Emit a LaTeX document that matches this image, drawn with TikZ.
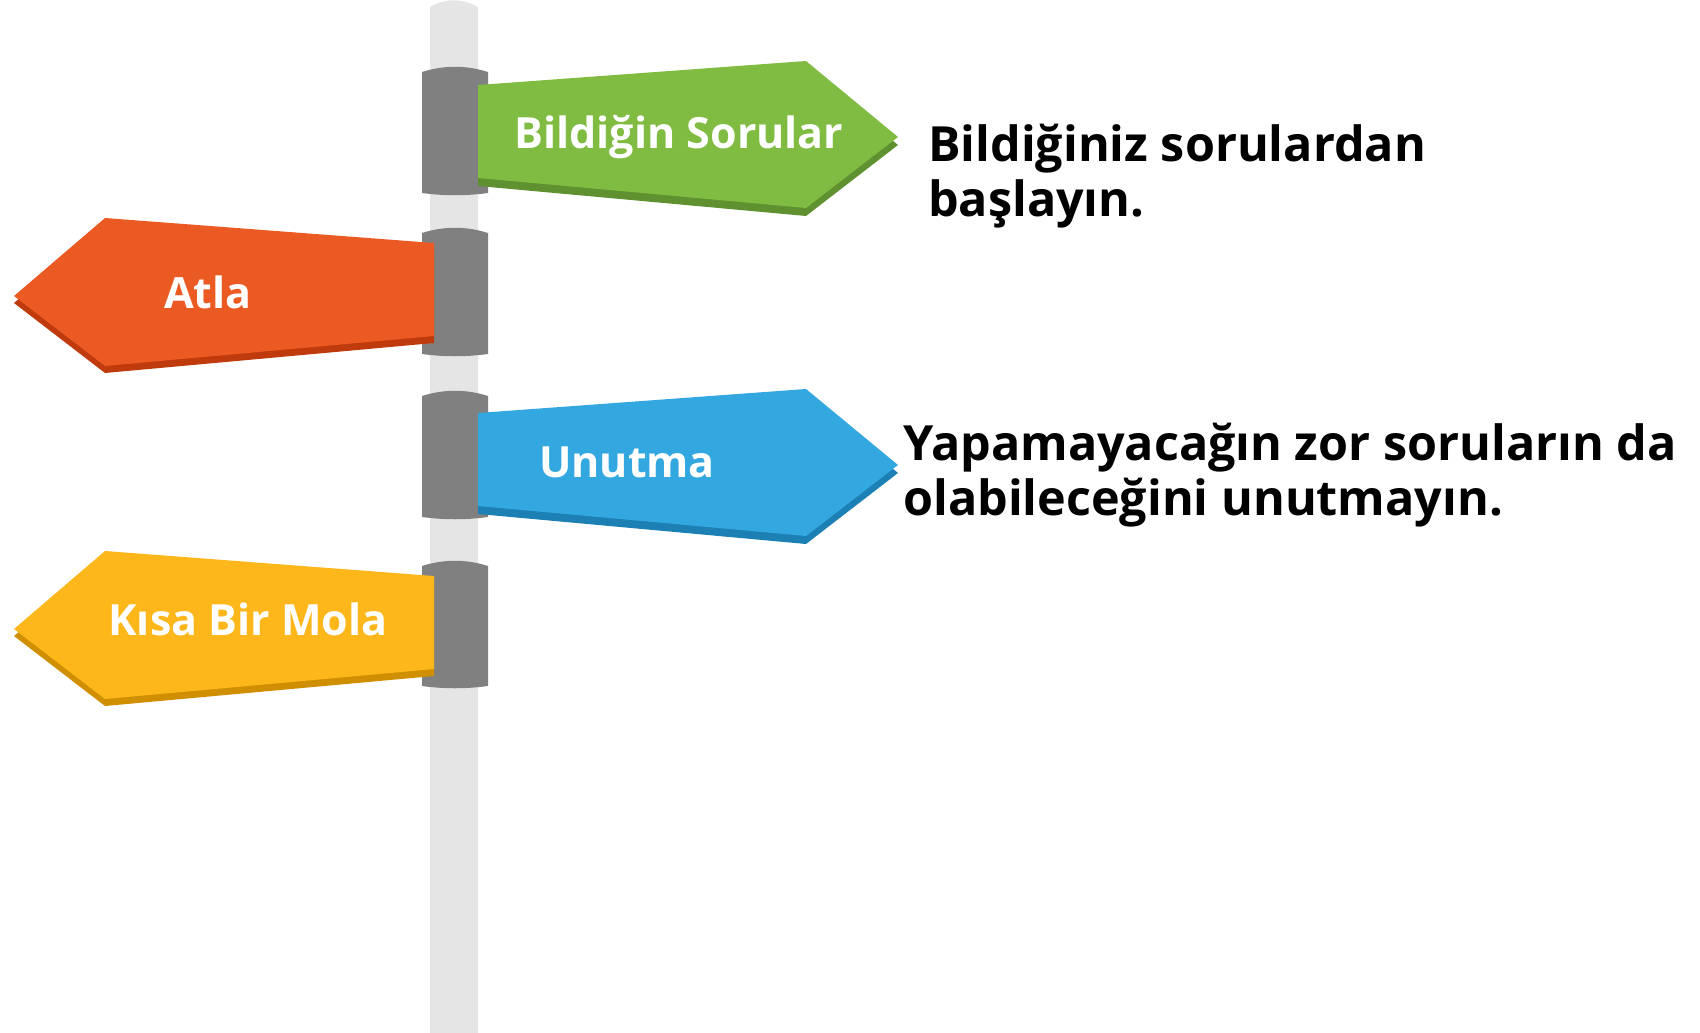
\documentclass[tikz,border=0pt]{standalone}
\usepackage{fontspec}
\setmainfont{Open Sans}
\definecolor{polegray}{HTML}{E5E5E5}
\definecolor{clampgray}{HTML}{808080}
\definecolor{signgreen}{HTML}{80BC41}
\definecolor{signgreendark}{HTML}{5F9130}
\definecolor{signorange}{HTML}{EC5A24}
\definecolor{signorangedark}{HTML}{BF3A0C}
\definecolor{signblue}{HTML}{33A8E0}
\definecolor{signbluedark}{HTML}{1C80B4}
\definecolor{signyellow}{HTML}{FDB71A}
\definecolor{signyellowdark}{HTML}{D08F00}
\tikzset{
  signtext/.style={text=white,inner sep=0pt,anchor=base,font=\fontsize{43}{48}\selectfont\bfseries},
  notetext/.style={inner sep=0pt,anchor=base west,align=left,font=\fontsize{48.5}{55}\selectfont\bfseries}
}
% sign pointing right, #1 = y of upper left corner
\newcommand{\signright}[3]{%
  \fill[#3] (478,#1+8) -- ++(328,-24) -- ++(92,76) -- ++(-92,71) -- ++(-328,-30) -- cycle;
  \fill[#2] (478,#1) -- ++(328,-24) -- ++(92,76) -- ++(-92,71) -- ++(-328,-30) -- cycle;}
% sign pointing left, #1 = y of upper right corner
\newcommand{\signleft}[3]{%
  \fill[#3] (434,#1+7) -- ++(-329,-25) -- ++(-91,78) -- ++(91,70) -- ++(329,-30) -- cycle;
  \fill[#2] (434,#1) -- ++(-329,-25) -- ++(-91,78) -- ++(91,70) -- ++(329,-30) -- cycle;}
\begin{document}
\begin{tikzpicture}[x=1pt,y=-1pt]
  \useasboundingbox (0,0) rectangle (1700,1033);
  \fill[polegray] (430,1033) -- (430,7) .. controls (446,-2) and (462,-2) .. (478,7) -- (478,1033) -- cycle;
  \foreach \top/\bot in {72/193,233/354,396/517,566/686}{
    \fill[clampgray] (422,\top) .. controls (444,\top-7) and (466,\top-7) .. (488,\top)
      -- (488,\bot) .. controls (466,\bot+3) and (444,\bot+3) .. (422,\bot) -- cycle;}
  \signright{85}{signgreen}{signgreendark}
  \signleft{243}{signorange}{signorangedark}
  \signright{413}{signblue}{signbluedark}
  \signleft{576}{signyellow}{signyellowdark}
  \node[signtext] (bildigin) at (679,148) {Bildiğin Sorular};
  \node[signtext] (atla) at (208,308) {Atla};
  \node[signtext] (unutma) at (627,477) {Unutma};
  \node[signtext] (mola) at (248,635) {Kısa Bir Mola};
  \node[notetext] (basla) at (928,216) {Bildiğiniz sorulardan\\başlayın.};
  \node[notetext] (zor) at (903,515) {Yapamayacağın zor soruların da\\olabileceğini unutmayın.};
\end{tikzpicture}
\end{document}
